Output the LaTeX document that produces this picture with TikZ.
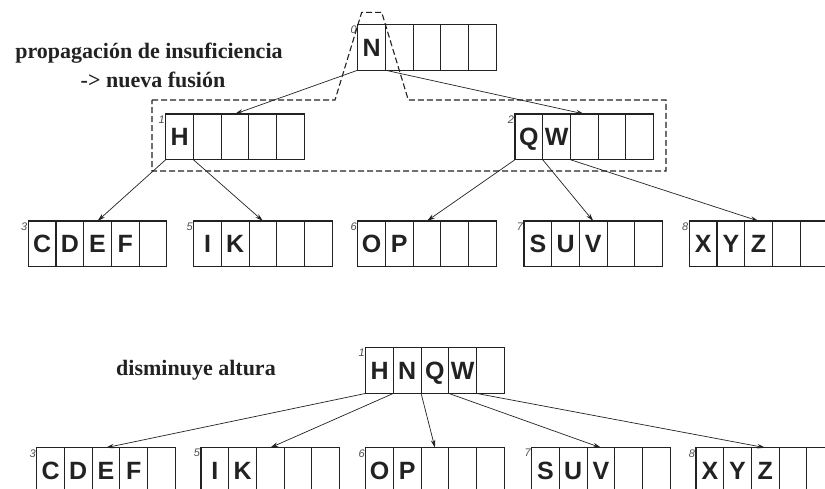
\documentclass[tikz,border=0pt]{standalone}
\usepackage{fontspec}
\setmainfont{Liberation Serif}
\setsansfont{Liberation Sans}
\usetikzlibrary{arrows.meta,calc}
\definecolor{ink}{HTML}{222222}
\tikzset{
  cellbox/.style={draw=ink, line width=1.3pt, minimum width=138.5pt, minimum height=45.7pt, anchor=north west, inner sep=0pt, outer sep=0pt},
  divider/.style={draw=ink, line width=1.2pt},
  letter/.style={font=\sffamily\bfseries\fontsize{25}{25}\selectfont, text=ink, inner sep=0pt, text height=17.9pt, text depth=0pt},
  idx/.style={font=\sffamily\itshape\fontsize{11}{11}\selectfont, text=ink!80, inner sep=0pt, anchor=north east},
  ptr/.style={draw=ink, line width=0.7pt, -{Stealth[length=8pt,width=4.5pt]}},
  fusion/.style={draw=ink, line width=1.1pt, dash pattern=on 6pt off 3pt},
  caption/.style={font=\bfseries\fontsize{22}{24}\selectfont, text=ink, inner sep=0pt}
}
\newcommand\btnode[5]{%
  \node[cellbox] (#1) at (#2,#3) {};
  \foreach \k in {1,...,4} {\draw[divider] ($(#1.north west)+(\k*27.7pt,0)$) -- ($(#1.south west)+(\k*27.7pt,0)$);}
  \foreach \k in {0,...,4} {\coordinate (#1-p\k) at ($(#1.south west)+(\k*27.7pt,0)$);}
  \foreach \l [count=\c from 0] in {#5} {\node[letter] at ($(#1.west)+(\c*27.7pt+13.85pt,0)$) {\l};}
  \node[idx] (#1-idx) at ($(#1.north west)+(-0.8pt,-1.5pt)$) {#4};
}
\begin{document}
\begin{tikzpicture}[x=1pt,y=-1pt]
\path[use as bounding box] (0,0) rectangle (825,488);
\clip (0,0) rectangle (825,488);
% top tree
\btnode{n0}{357.7}{24.5}{0}{N}
\btnode{n1}{165.7}{114}{1}{H}
\btnode{n2}{515}{114}{2}{Q,W}
\btnode{n3}{28.3}{221}{3}{C,D,E,F}
\btnode{n5}{193.7}{221}{5}{I,K}
\btnode{n6}{357.7}{221}{6}{O,P}
\btnode{n7}{524}{221}{7}{S,U,V}
\btnode{n8}{689.3}{221}{8}{X,Y,Z}
\draw[ptr] (n0-p0) -- (n1.north);
\draw[ptr] (n0-p1) -- (n2.north);
\draw[ptr] (n1-p0) -- (n3.north);
\draw[ptr] (n1-p1) -- (n5.north);
\draw[ptr] (n2-p0) -- (n6.north);
\draw[ptr] (n2-p1) -- (n7.north);
\draw[ptr] (n2-p2) -- (n8.north);
\coordinate (f1) at (152,100);
\coordinate (f2) at (335,100);
\coordinate (f3) at (361.7,12.3);
\coordinate (f4) at (381.7,12.3);
\coordinate (f5) at (408.3,100);
\coordinate (f6) at (666,100);
\coordinate (f7) at (666,171);
\coordinate (f8) at (152,171);
\draw[fusion] (f1) -- (f2) -- (f3) -- (f4) -- (f5) -- (f6) -- (f7) -- (f8) -- cycle;
\node[caption] (t1) at (149,53) {propagación de insuficiencia};
\node[caption] (t2) at (153,80) {-> nueva fusión};
% bottom tree
\btnode{m1}{365.7}{347.7}{1}{H,N,Q,W}
\btnode{m3}{36.7}{447.7}{3}{C,D,E,F}
\btnode{m5}{201}{447.7}{5}{I,K}
\btnode{m6}{365.7}{447.7}{6}{O,P}
\btnode{m7}{531.7}{447.7}{7}{S,U,V}
\btnode{m8}{696}{447.7}{8}{X,Y,Z}
\draw[ptr] (m1-p0) -- (m3.north);
\draw[ptr] (m1-p1) -- (m5.north);
\draw[ptr] (m1-p2) -- (m6.north);
\draw[ptr] (m1-p3) -- (m7.north);
\draw[ptr] (m1-p4) -- (m8.north);
\node[caption] (t3) at (196,370) {disminuye altura};
\end{tikzpicture}
\end{document}
